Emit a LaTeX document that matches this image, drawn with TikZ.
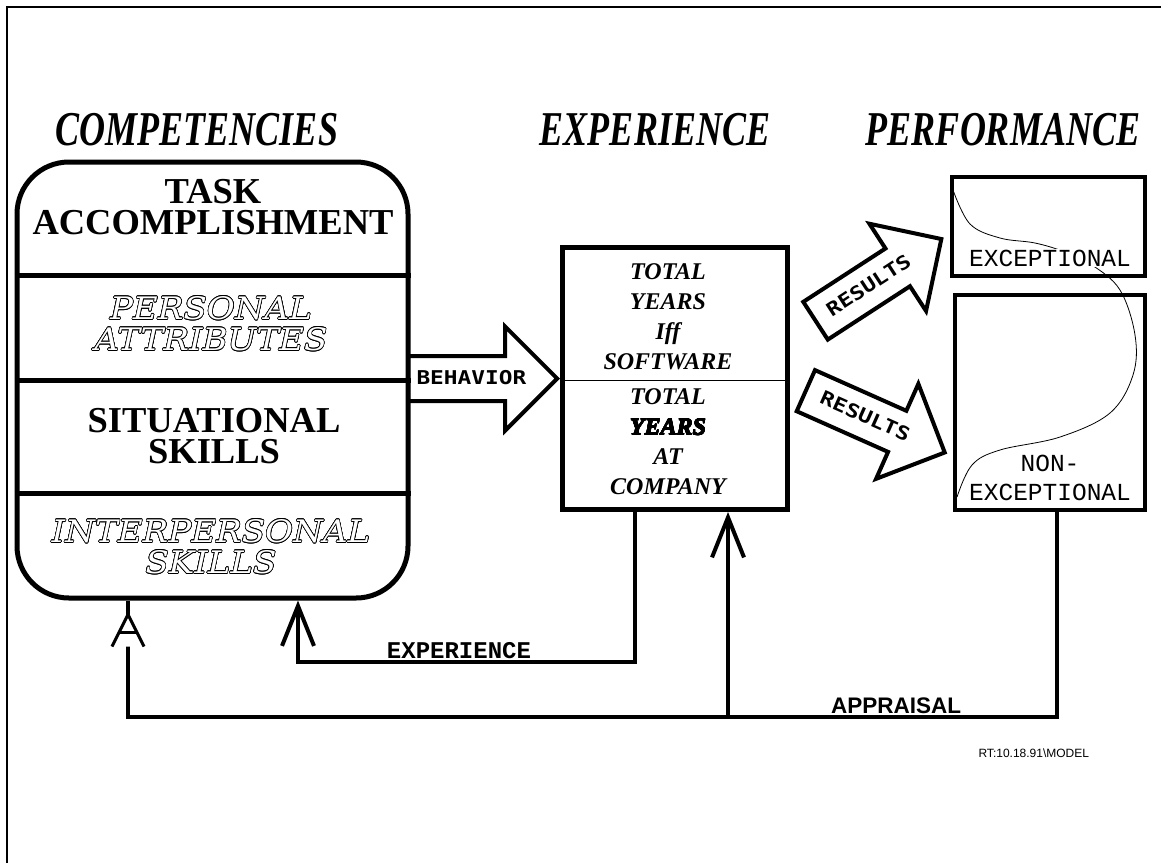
\documentclass[tikz,border=0pt]{standalone}
\usepackage{fontspec}
\usepackage{graphicx}
\usepackage[copies]{contour}
\usetikzlibrary{shapes.arrows,arrows.meta}
\setmainfont{Liberation Serif}
\newfontfamily\hollowfont{DejaVu Serif}
\newfontfamily\typefont{Liberation Mono}
\newfontfamily\arrowfont{DejaVu Sans Mono}
\newfontfamily\labelfont{Liberation Sans}
\contourlength{0.6pt}
\newcommand{\hollow}[1]{\scalebox{1.1}[1]{\contour{black}{\textcolor{white}{#1}}}}
\newcommand{\tall}[1]{\scalebox{1}[1.35]{#1}}
\newcommand{\wide}[1]{\scalebox{1.2}[1]{#1}}

\begin{document}
\begin{tikzpicture}[x=1pt,y=-1pt,
	title/.style={font=\fontsize{36}{36}\selectfont\bfseries\itshape},
	box/.style={draw,line width=5pt,inner sep=0pt},
	bold/.style={font=\fontsize{36.5}{31}\selectfont\bfseries,align=center},
	outline/.style={font=\hollowfont\itshape\fontsize{31}{31}\selectfont,align=center},
	years/.style={font=\fontsize{24}{30}\selectfont\bfseries\itshape,align=center},
	perf/.style={font=\typefont\fontsize{24.5}{29}\selectfont,align=center},
	bigarrow/.style={single arrow,draw,line width=4pt,single arrow head extend=29.5pt,single arrow tip angle=90,text height=12pt,text depth=0pt,inner ysep=14.5pt,inner xsep=4pt,font=\arrowfont\bfseries\fontsize{19}{19}\selectfont},
	feed/.style={line width=4.5pt},
	barb/.style={-{Straight Barb[length=40pt,width=32pt,line width=4pt]}}]
	\useasboundingbox (0,0) rectangle (1161,863);
	\draw[line width=1.5pt] (7,863) -- (7,7) -- (1161,7);

	\node[title] (tcomp) at (197,130) {\tall{COMPETENCIES}};
	\node[title] (texp) at (655,130) {\tall{EXPERIENCE}};
	\node[title] (tperf) at (1003,130) {\tall{PERFORMANCE}};

	\node[box,rounded corners=52pt,minimum width=391pt,minimum height=436pt] (comp) at (212.5,380) {};
	\draw[line width=5pt] (comp.west |- 0,275) -- (comp.east |- 0,275);
	\draw[line width=5pt] (comp.west |- 0,380) -- (comp.east |- 0,380);
	\draw[line width=5pt] (comp.west |- 0,493) -- (comp.east |- 0,493);
	\node[bold] (task) at (213,207) {TASK\\ACCOMPLISHMENT};
	\node[outline] (pers) at (211,324) {\hollow{PERSONAL}\\\hollow{ATTRIBUTES}};
	\node[bold] (sit) at (214,436) {SITUATIONAL\\SKILLS};
	\node[outline] (inter) at (211,547) {\hollow{INTERPERSONAL}\\\hollow{SKILLS}};

	\node[box,minimum width=225pt,minimum height=262pt] (expbox) at (675,378.5) {};
	\draw[line width=0.8pt] (expbox.west |- 0,380) -- (expbox.east |- 0,380);
	\node[years] (soft) at (668,317) {TOTAL\\YEARS\\Iff\\SOFTWARE};
	\node[years] (firm) at (668,442) {TOTAL\\{\contourlength{0.35pt}\contour{black}{YEARS}}\\AT\\COMPANY};

	\node[box,line width=4pt,minimum width=193pt,minimum height=99pt] (exc) at (1048.5,226.5) {};
	\node[box,line width=4pt,minimum width=190pt,minimum height=215pt] (nonexc) at (1050,402.5) {};
	\draw[line width=0.8pt] plot[smooth,tension=0.6] coordinates {(953,190) (970,224) (1000,238) (1035,243) (1065,252) (1092,265) (1120,290) (1135,335) (1133,375) (1110,413) (1060,437) (1000,450) (972,465) (957,497)};
	\node[perf,fill=white,inner sep=1pt] (exclab) at (1050,258) {EXCEPTIONAL};
	\node[perf] (nonlab) at (1050,478) {NON-\\EXCEPTIONAL};

	\node[bigarrow,anchor=tip,minimum height=149pt] (behav) at (expbox.west) {\wide{BEHAVIOR}};
	\node[bigarrow,rotate=33,minimum height=150pt] (res1) at (869,286) {\wide{RESULTS}};
	\node[bigarrow,rotate=-24,minimum height=152pt] (res2) at (865,417) {\wide{RESULTS}};

	\draw[feed,barb] ([xshift=-40pt]expbox.south) -- ++(0,150) -| ([xshift=85.5pt]comp.south);
	\node[font=\typefont\bfseries\fontsize{24}{24}\selectfont] (explab) at (459,651) {EXPERIENCE};

	\draw[feed] ([xshift=7pt]nonexc.south) -- ++(0,205) -| ([xshift=-84.5pt]comp.south);
	\coordinate (split) at (728,717);
	\draw[feed,barb] (split) -- (split |- expbox.south);
	\coordinate (atop) at ([xshift=-84.5pt]comp.south);
	\fill[white] ([yshift=-14pt]atop) -- ++(-16,32) -- ++(32,0) -- cycle;
	\draw[line width=3pt] ([xshift=-16pt,yshift=-46pt]atop) -- ([yshift=-14pt]atop) -- ([xshift=16pt,yshift=-46pt]atop);
	\draw[line width=3pt] ([xshift=-9pt,yshift=-32pt]atop) -- ([xshift=9pt,yshift=-32pt]atop);
	\node[font=\labelfont\bfseries\fontsize{22.5}{22.5}\selectfont] (apprlab) at (896,706) {APPRAISAL};
	\node[font=\labelfont\fontsize{12}{12}\selectfont,anchor=west] (stamp) at (975,753) {RT:10.18.91\textbackslash MODEL};
\end{tikzpicture}
\end{document}
